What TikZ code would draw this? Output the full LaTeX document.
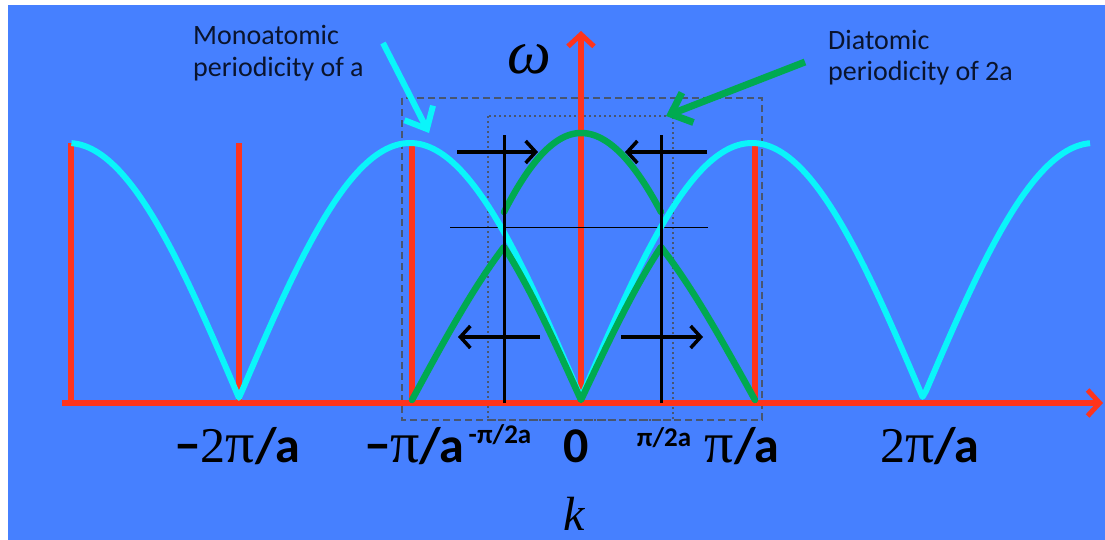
\documentclass[tikz,border=0pt]{standalone}
\usepackage{fontspec}
\setmainfont{Carlito}
\newfontfamily\serif{Liberation Serif}
\usetikzlibrary{arrows.meta}
\definecolor{bg}{RGB}{70,128,255}
\definecolor{axred}{RGB}{255,52,28}
\definecolor{cy}{RGB}{10,245,250}
\definecolor{gr}{RGB}{0,170,80}
\definecolor{txt}{RGB}{10,20,45}
\definecolor{boxc}{RGB}{72,86,112}
\definecolor{thin}{RGB}{58,108,205}
\newcommand\pisym{{\serif\mdseries\fontsize{58}{58}\selectfont π}}
\begin{document}
\begin{tikzpicture}[x=1pt,y=-1pt,
  redline/.style={axred,line width=5.5pt},
  redarrow/.style={redline,-{Straight Barb[length=12pt,width=26pt,line width=5pt]}},
  cyline/.style={cy,line width=6pt,line join=round},
  grline/.style={gr,line width=6.5pt,line join=round,line cap=round},
  blkline/.style={black,line width=3pt},
  blkarrow/.style={black,line width=3.5pt,-{Straight Barb[length=10pt,width=22pt,line width=3.5pt]}},
  dashbox/.style={boxc,line width=2.5pt,dash pattern=on 7pt off 4pt},
  dotbox/.style={boxc,line width=2.5pt,dash pattern=on 2pt off 3pt},
  note/.style={txt,font=\fontsize{28}{32}\selectfont,inner sep=0pt,anchor=base west},
  klabel/.style={black,font=\fontsize{50}{50}\selectfont\bfseries,inner sep=0pt,anchor=base},
  ksup/.style={black,font=\fontsize{27}{27}\selectfont\bfseries,inner sep=0pt,anchor=base}]
\useasboundingbox (0,0) rectangle (1105,540);
\fill[white] (0,0) rectangle (1105,540);
\fill[bg] (8,5) rectangle (1105,540);

% zone boxes
\draw[dashbox] (402,98) rectangle (762,420);
\draw[dotbox] (488,116) rectangle (673,420);

% axes
\coordinate (xs) at (62,403);
\coordinate (xe) at (1103,403);
\coordinate (yb) at (581,403);
\coordinate (yt) at (581,31);
\draw[redarrow] (xs) -- (xe);
\draw[redarrow] (yb) -- (yt);
\foreach \xx/\nm in {71/a,239/b,412/c,755/d}{
  \coordinate (rt\nm) at (\xx,143);
  \coordinate (rb\nm) at (\xx,403);
  \draw[redline] (rb\nm) -- (rt\nm);
}

% thin gap line
\coordinate (gl) at (450,227);
\coordinate (gr) at (708,227);
\draw[thin,line width=0.8pt] (gl) -- (gr);

% monoatomic dispersion
\draw[cyline] plot[domain=-2.98:2.98,samples=299] ({581+171*\x},{398-255*abs(sin(90*\x))});

% diatomic branches
\draw[grline] plot[domain=0:1,samples=40] ({412+92*\x},{400-216.4*sin(45*\x)})
  -- plot[domain=1:0,samples=40] ({581-77*\x},{400-216.4*sin(45*\x)})
  -- plot[domain=0:1,samples=40] ({581+80*\x},{400-216.4*sin(45*\x)})
  -- plot[domain=1:0,samples=40] ({755-94*\x},{400-216.4*sin(45*\x)});
\draw[grline] plot[domain=1:0,samples=40] ({581-77*\x},{133+269.7*(1-cos(45*\x))})
  -- plot[domain=0:1,samples=40] ({581+80*\x},{133+269.7*(1-cos(45*\x))});

% zone boundary lines
\coordinate (bl1) at (504,135); \coordinate (bl2) at (504,403);
\coordinate (br1) at (661,135); \coordinate (br2) at (661,403);
\draw[blkline] (bl2) -- (bl1);
\draw[blkline] (br2) -- (br1);

% folding arrows
\coordinate (a1s) at (457,152); \coordinate (a1e) at (538,152);
\coordinate (a2s) at (707,152); \coordinate (a2e) at (625,152);
\coordinate (a3s) at (540,337); \coordinate (a3e) at (458,337);
\coordinate (a4s) at (621,337); \coordinate (a4e) at (703,337);
\draw[blkarrow] (a1s) -- (a1e);
\draw[blkarrow] (a2s) -- (a2e);
\draw[blkarrow] (a3s) -- (a3e);
\draw[blkarrow] (a4s) -- (a4e);

% annotations
\node[note] (mono1) at (193,45) {Monoatomic};
\node[note] (mono2) at (193,77) {periodicity of a};
\node[note] (dia1) at (828,50) {Diatomic};
\node[note] (dia2) at (828,81) {periodicity of 2a};

\coordinate (cas) at (383,43); \coordinate (cae) at (429,133);
\draw[cy,line width=6pt,-{Straight Barb[length=18pt,width=32pt,line width=6pt]}] (cas) -- (cae);
\coordinate (gas) at (805,62); \coordinate (gae) at (666,116);
\draw[gr,line width=7pt,-{Straight Barb[length=18pt,width=32pt,line width=7pt]}] (gas) -- (gae);

% axis titles
\node[inner sep=0pt,font=\fontsize{62}{62}\selectfont\serif\itshape] (omega) at (529,59) {ω};
\node[inner sep=0pt,font=\fontsize{48}{48}\selectfont\serif\itshape] (kk) at (574,514) {k};

% tick labels
\node[klabel] (m2) at (238,462) {−{\serif\mdseries 2}\pisym/a};
\node[klabel] (m1) at (415,462) {−\pisym/a};
\node[ksup] (mh) at (500,443) {-π/2a};
\node[klabel] (z) at (576,462) {0};
\node[ksup] (ph) at (664,446) {π/2a};
\node[klabel] (p1) at (742,462) {\pisym/a};
\node[klabel] (p2) at (930,462) {{\serif\mdseries 2}\pisym/a};
\end{tikzpicture}
\end{document}
